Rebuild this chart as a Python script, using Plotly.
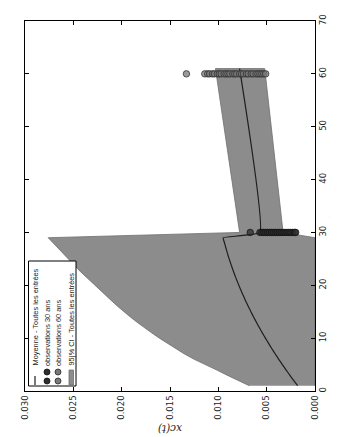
import plotly.graph_objects as go

# ---- data ----
# 95% CI band (all entries)
ci_t = [1, 2, 3, 4, 5, 6, 7, 8, 9, 10, 11, 12, 13, 14, 15, 16, 17, 18, 19, 20,
        21, 22, 23, 24, 25, 26, 27, 28, 29, 30, 61]
ci_upper = [0.0068, 0.0080, 0.0091, 0.0102, 0.0114, 0.0125, 0.0135, 0.0144, 0.0153, 0.0161,
            0.0169, 0.0177, 0.0184, 0.0191, 0.0198, 0.0204, 0.0210, 0.0216, 0.0222, 0.0228,
            0.0234, 0.0239, 0.0245, 0.0250, 0.0255, 0.0260, 0.0265, 0.0270, 0.0276, 0.0078, 0.0103]
ci_lower = [0.0, 0.0, 0.0, 0.0, 0.0, 0.0, 0.0, 0.0, 0.0, 0.0,
            0.0, 0.0, 0.0, 0.0, 0.0, 0.0, 0.0, 0.0, 0.0, 0.0,
            0.0, 0.0, 0.0, 0.0, 0.0, 0.0, 0.0, 0.0, 0.0, 0.0033, 0.0052]

# mean (all entries)
mean_t = ci_t
mean_v = [0.00180, 0.00221, 0.00261, 0.00300, 0.00338, 0.00375, 0.00411, 0.00446, 0.00480, 0.00513,
          0.00545, 0.00576, 0.00606, 0.00635, 0.00663, 0.00690, 0.00716, 0.00741, 0.00765, 0.00788,
          0.00810, 0.00831, 0.00851, 0.00870, 0.00888, 0.00905, 0.00921, 0.00936, 0.00950,
          0.0057, 0.0078]

# observations at 30 years
obs30_t = 30
obs30_v = [0.0067, 0.0057, 0.0055, 0.0053, 0.0051, 0.0049, 0.0047, 0.0045, 0.0043, 0.0041,
           0.0039, 0.0037, 0.0035, 0.0033, 0.0031, 0.0029, 0.0027, 0.0025, 0.0023, 0.0021, 0.0020]

# observations at 60 years
obs60_t = 60
obs60_v = [0.0133, 0.0114, 0.0111, 0.0109, 0.0106, 0.0104, 0.0101, 0.0099, 0.0097, 0.0094,
           0.0092, 0.0090, 0.0088, 0.0085, 0.0083, 0.0081, 0.0078, 0.0076, 0.0074, 0.0071,
           0.0069, 0.0066, 0.0064, 0.0061, 0.0059, 0.0057, 0.0055, 0.0053, 0.0051]

x_ticks = [0.000, 0.005, 0.010, 0.015, 0.020, 0.025, 0.030]
t_ticks = [0, 10, 20, 30, 40, 50, 60, 70]

legend_labels = ["Moyenne - Toutes les entrées", "observations 30 ans",
                 "observations 60 ans", "95|% CI - Toutes les entrées"]

# ---- figure ----
W, H = 338, 437
L, R, T, B = 17, 31, 13, 54
PW, PH = W - L - R, H - T - B

def px(x):
    return (x - L) / PW

def py(y):
    return (H - B - y) / PH

fig = go.Figure()

fig.add_trace(go.Scatter(
    x=ci_upper + ci_lower[::-1],
    y=ci_t + ci_t[::-1],
    mode="lines", fill="toself",
    fillcolor="#8c8c8c",
    line=dict(color="#6e6e6e", width=0.8),
    hoverinfo="skip", showlegend=False))

fig.add_trace(go.Scatter(
    x=mean_v, y=mean_t, mode="lines", line_shape="spline",
    line=dict(color="#1e1e1e", width=1.2, smoothing=0.3), showlegend=False))

fig.add_trace(go.Scatter(
    x=obs30_v, y=[obs30_t] * len(obs30_v), mode="markers",
    marker=dict(size=6.5, color="rgba(45,45,45,0.75)",
                line=dict(color="rgba(15,15,15,0.9)", width=0.8)),
    showlegend=False))

fig.add_trace(go.Scatter(
    x=obs60_v, y=[obs60_t] * len(obs60_v), mode="markers",
    marker=dict(size=6.5, color="rgba(120,120,120,0.75)",
                line=dict(color="rgba(40,40,40,0.9)", width=0.8)),
    showlegend=False))

tickfont = dict(family="DejaVu Sans", size=8.5, color="#222")

fig.update_xaxes(
    range=[0.030, 0.0], tickvals=x_ticks, ticktext=["%.3f" % v for v in x_ticks],
    tickangle=-90, tickfont=tickfont,
    showline=True, linecolor="black", linewidth=1, mirror="ticks",
    ticks="inside", ticklen=4, tickcolor="black",
    showgrid=False, zeroline=False, automargin=False)

fig.update_yaxes(
    range=[0, 70], tickvals=t_ticks, side="right",
    tickangle=-90, tickfont=tickfont,
    showline=True, linecolor="black", linewidth=1, mirror="ticks",
    ticks="inside", ticklen=4, tickcolor="black",
    showgrid=False, zeroline=False, automargin=False)

annotations = [
    dict(text="t (year)", xref="paper", yref="paper",
         x=px(326.5), y=py(200), textangle=-90, showarrow=False,
         xanchor="center", yanchor="middle", borderpad=0,
         font=dict(family="DejaVu Sans", size=10, color="#222")),
    dict(text="<i>xc(t)</i>", xref="paper", yref="paper",
         x=px(162), y=py(421), textangle=180, showarrow=False,
         xanchor="center", yanchor="middle",
         font=dict(family="DejaVu Serif", size=10.5, color="#222")),
]

legend_x = [27, 39, 50, 63]
for lab, lx in zip(legend_labels, legend_x):
    annotations.append(dict(
        text=lab, xref="paper", yref="paper", x=px(lx), y=py(359),
        textangle=-90, showarrow=False, xanchor="center", yanchor="bottom",
        borderpad=0,
        font=dict(family="Liberation Sans", size=7.4, color="#222")))

shapes = [
    dict(type="rect", xref="paper", yref="paper",
         x0=px(20.5), x1=px(68), y0=py(378), y1=py(253),
         line=dict(color="black", width=1), fillcolor="white", layer="above"),
    dict(type="line", xref="paper", yref="paper",
         x0=px(27), x1=px(27), y0=py(377), y1=py(368),
         line=dict(color="#1e1e1e", width=1.2), layer="above"),
    dict(type="rect", xref="paper", yref="paper",
         x0=px(61), x1=px(65.5), y0=py(377), y1=py(362),
         line=dict(color="#6e6e6e", width=0.8), fillcolor="#8c8c8c", layer="above"),
]
for cx, col, edge in [(39, "rgb(45,45,45)", "rgb(15,15,15)"),
                      (50, "rgb(120,120,120)", "rgb(40,40,40)")]:
    for cy in (364, 373):
        shapes.append(dict(
            type="circle", xref="paper", yref="paper",
            xsizemode="pixel", ysizemode="pixel",
            xanchor=px(cx), yanchor=py(cy),
            x0=-3, x1=3, y0=-3, y1=3,
            fillcolor=col, line=dict(color=edge, width=0.8), layer="above"))

fig.update_layout(
    width=W, height=H,
    margin=dict(l=L, r=R, t=T, b=B, pad=0),
    paper_bgcolor="white", plot_bgcolor="white",
    showlegend=False,
    annotations=annotations, shapes=shapes)

fig.write_html("out.html")
